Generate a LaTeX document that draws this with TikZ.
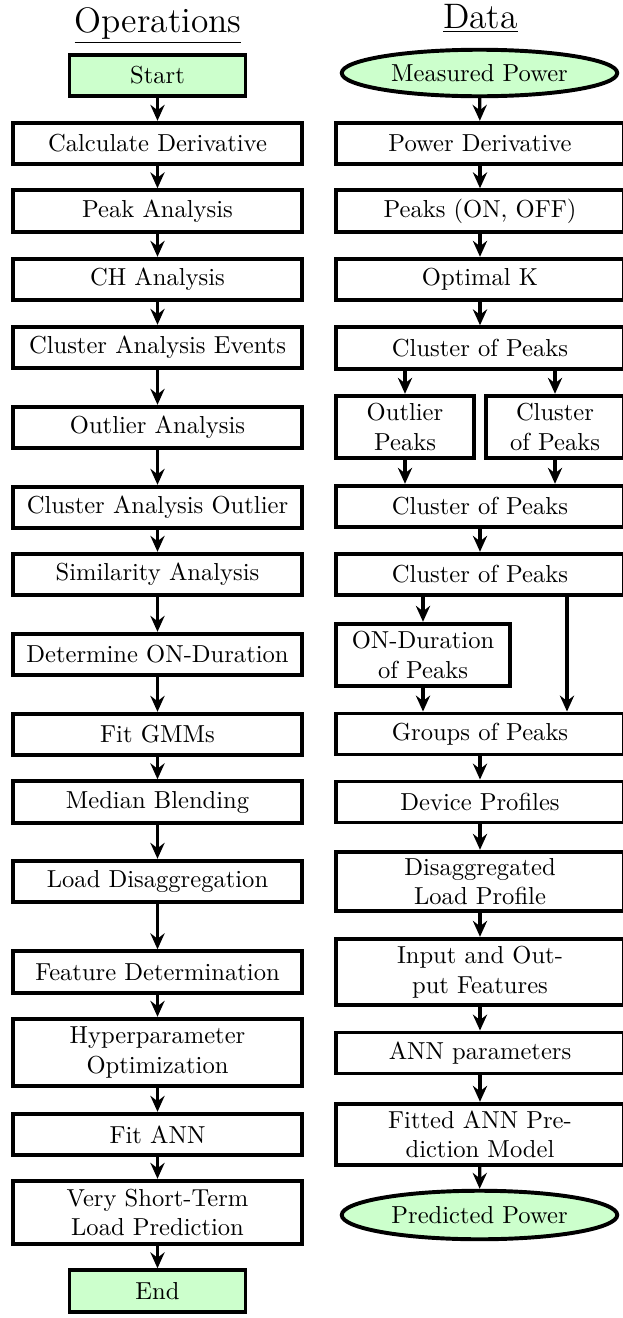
\documentclass[tikz,border=0pt]{standalone}
\usetikzlibrary{shapes.geometric,arrows.meta}
\definecolor{startgreen}{RGB}{204,255,204}
\def\pxu{0.407pt}
\tikzset{
  bx/.style 2 args={draw, line width=1.6pt, fill=white, align=center, inner sep=0pt,
    minimum width=#1*\pxu, minimum height=#2*\pxu},
  term/.style={bx={176}{41.5}, fill=startgreen},
  oval/.style 2 args={ellipse, draw, line width=1.6pt, fill=startgreen, inner sep=0pt,
    minimum width=#1*\pxu, minimum height=#2*\pxu},
  arr/.style={line width=1.3pt, -{Stealth[length=6.5pt,width=5.8pt,inset=2.2pt]}},
  ttl/.style={anchor=base, font=\Large, inner sep=0pt}
}
\begin{document}
\begin{tikzpicture}[x=\pxu, y=-\pxu]
\useasboundingbox (0,0) rectangle (623,1318);
% titles
\node[ttl] (tops) at (158,32) {\underline{Operations}};
\node[ttl] (tdata) at (480.5,28) {\underline{Data}};
% ---------- Operations column ----------
\node[term] (o1) at (157.5,75.5) {Start};
\node[bx={289}{41.5}] (o2) at (157.5,143.5) {Calculate Derivative};
\node[bx={289}{41.5}] (o3) at (157.5,211) {Peak Analysis};
\node[bx={289}{41.5}] (o4) at (157.5,279.5) {CH Analysis};
\node[bx={289}{41.5}] (o5) at (157.5,347.5) {Cluster Analysis Events};
\node[bx={289}{41.5}] (o6) at (157.5,427.5) {Outlier Analysis};
\node[bx={289}{41.5}] (o7) at (157.5,507.5) {Cluster Analysis Outlier};
\node[bx={289}{41.5}] (o8) at (157.5,574.5) {Similarity Analysis};
\node[bx={289}{41.5}] (o9) at (157.5,654.5) {Determine ON-Duration};
\node[bx={289}{41.5}] (o10) at (157.5,734.5) {Fit GMMs};
\node[bx={289}{41.5}] (o11) at (157.5,802) {Median Blending};
\node[bx={289}{41.5}] (o12) at (157.5,881.5) {Load Disaggregation};
\node[bx={289}{41.5}] (o13) at (157.5,972) {Feature Determination};
\node[bx={289}{67.5}] (o14) at (157.5,1052.5) {Hyperparameter\\Optimization};
\node[bx={289}{41.5}] (o15) at (157.5,1134.5) {Fit ANN};
\node[bx={289}{63.5}] (o16) at (157.5,1212.5) {Very Short-Term\\Load Prediction};
\node[term] (o17) at (157.5,1291) {End};
\foreach \a/\b in {o1/o2,o2/o3,o3/o4,o4/o5,o5/o6,o6/o7,o7/o8,o8/o9,o9/o10,o10/o11,o11/o12,o12/o13,o13/o14,o14/o15,o15/o16,o16/o17}
  \draw[arr] (\a) -- (\b);
% ---------- Data column ----------
\node[oval={275.5}{46.5}] (d1) at (479.5,73) {Measured Power};
\node[bx={288.5}{41.5}] (d2) at (480,143.5) {Power Derivative};
\node[bx={288.5}{41.5}] (d3) at (480,211) {Peaks (ON, OFF)};
\node[bx={288.5}{41.5}] (d4) at (480,279.5) {Optimal K};
\node[bx={288.5}{41.5}] (d5) at (480,348) {Cluster of Peaks};
\node[bx={138.5}{62.5}] (d6a) at (405,427) {Outlier\\Peaks};
\node[bx={138.5}{62.5}] (d6b) at (555,427) {Cluster\\of Peaks};
\node[bx={288.5}{41.5}] (d7) at (480,506.5) {Cluster of Peaks};
\node[bx={288.5}{41.5}] (d8) at (480,574.5) {Cluster of Peaks};
\node[bx={174.5}{62.5}] (d9) at (423,655) {ON-Duration\\of Peaks};
\node[bx={288.5}{41}] (d10) at (480,734) {Groups of Peaks};
\node[bx={288.5}{41}] (d11) at (480,802) {Device Profiles};
\node[bx={288.5}{59.5}] (d12) at (480,881.5) {Disaggregated\\Load Profile};
\node[bx={288.5}{66.5}] (d13) at (480,972) {Input and Out-\\put Features};
\node[bx={288.5}{41}] (d14) at (480,1053) {ANN parameters};
\node[bx={288.5}{61.5}] (d15) at (480,1134.5) {Fitted ANN Pre-\\diction Model};
\node[oval={275.5}{48.5}] (d16) at (479.5,1215) {Predicted Power};
\coordinate (lx) at (567,0);
\foreach \a/\b in {d1/d2,d2/d3,d3/d4,d4/d5,d7/d8,d10/d11,d11/d12,d12/d13,d13/d14,d14/d15,d15/d16}
  \draw[arr] (\a) -- (\b);
\draw[arr] (d5.south -| d6a.north) -- (d6a.north);
\draw[arr] (d5.south -| d6b.north) -- (d6b.north);
\draw[arr] (d6a.south) -- (d6a.south |- d7.north);
\draw[arr] (d6b.south) -- (d6b.south |- d7.north);
\draw[arr] (d8.south -| d9.north) -- (d9.north);
\draw[arr] (d9.south) -- (d9.south |- d10.north);
\draw[arr] (d8.south -| lx) -- (d10.north -| lx);
\end{tikzpicture}
\end{document}
